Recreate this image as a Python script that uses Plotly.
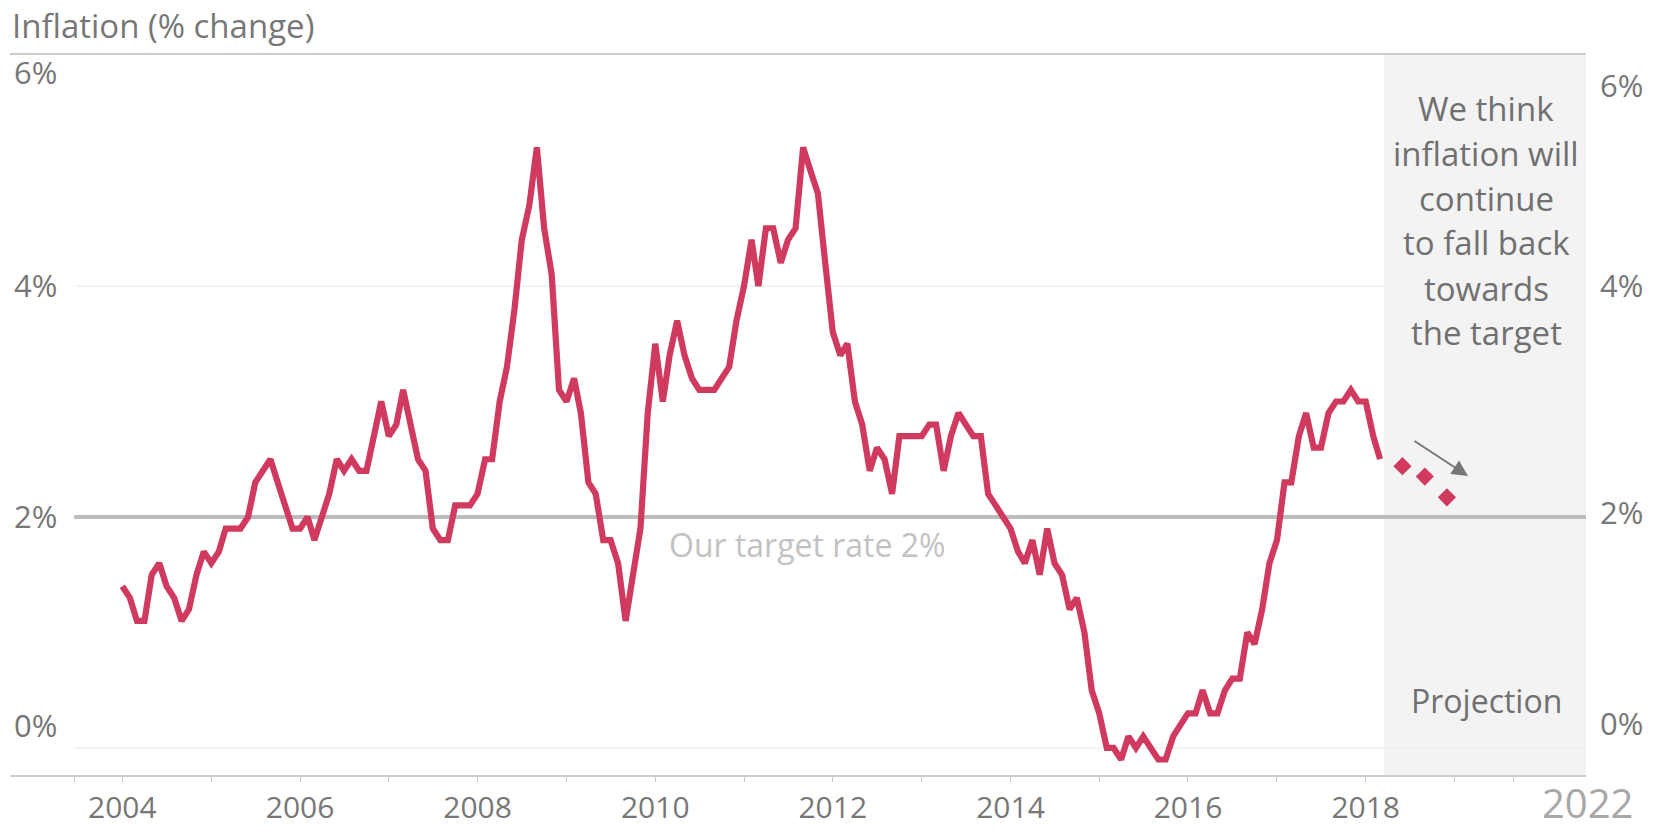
import plotly.graph_objects as go
import pandas as pd

# ---------------- data ----------------
months = pd.date_range("2004-01-01", "2018-03-01", freq="MS")
cpi = [
    1.4, 1.3, 1.1, 1.1, 1.5, 1.6, 1.4, 1.3, 1.1, 1.2, 1.5, 1.7,      # 2004
    1.6, 1.7, 1.9, 1.9, 1.9, 2.0, 2.3, 2.4, 2.5, 2.3, 2.1, 1.9,      # 2005
    1.9, 2.0, 1.8, 2.0, 2.2, 2.5, 2.4, 2.5, 2.4, 2.4, 2.7, 3.0,      # 2006
    2.7, 2.8, 3.1, 2.8, 2.5, 2.4, 1.9, 1.8, 1.8, 2.1, 2.1, 2.1,      # 2007
    2.2, 2.5, 2.5, 3.0, 3.3, 3.8, 4.4, 4.7, 5.2, 4.5, 4.1, 3.1,      # 2008
    3.0, 3.2, 2.9, 2.3, 2.2, 1.8, 1.8, 1.6, 1.1, 1.5, 1.9, 2.9,      # 2009
    3.5, 3.0, 3.4, 3.7, 3.4, 3.2, 3.1, 3.1, 3.1, 3.2, 3.3, 3.7,      # 2010
    4.0, 4.4, 4.0, 4.5, 4.5, 4.2, 4.4, 4.5, 5.2, 5.0, 4.8, 4.2,      # 2011
    3.6, 3.4, 3.5, 3.0, 2.8, 2.4, 2.6, 2.5, 2.2, 2.7, 2.7, 2.7,      # 2012
    2.7, 2.8, 2.8, 2.4, 2.7, 2.9, 2.8, 2.7, 2.7, 2.2, 2.1, 2.0,      # 2013
    1.9, 1.7, 1.6, 1.8, 1.5, 1.9, 1.6, 1.5, 1.2, 1.3, 1.0, 0.5,      # 2014
    0.3, 0.0, 0.0, -0.1, 0.1, 0.0, 0.1, 0.0, -0.1, -0.1, 0.1, 0.2,   # 2015
    0.3, 0.3, 0.5, 0.3, 0.3, 0.5, 0.6, 0.6, 1.0, 0.9, 1.2, 1.6,      # 2016
    1.8, 2.3, 2.3, 2.7, 2.9, 2.6, 2.6, 2.9, 3.0, 3.0, 3.1, 3.0,      # 2017
    3.0, 2.7, 2.5,                                                   # 2018
]

proj_dates = ["2018-06-01", "2018-09-01", "2018-12-01"]
proj_vals = [2.44, 2.35, 2.17]

target = 2.0
grid_vals = [0, 4]
projection_start = "2018-03-16"

x_range = ["2002-09-26", "2020-06-25"]
y_range = [-0.234, 6.0]

year_ticks = [f"{y}-01-01" for y in range(2004, 2020)]
year_text = [str(y) if y % 2 == 0 else "" for y in range(2004, 2020)]
extra_ticks = ["2003-06-17", "2019-09-02"]

y_label_text = ["0%", "2%", "4%", "6%"]
y_label_pos_left = [0.19, 2.0, 4.0, 5.84]
y_label_pos_right = [0.21, 2.03, 4.0, 5.73]

note_lines = ["We think", "inflation will", "continue", "to fall back", "towards", "the target"]

# ---------------- styling ----------------
W, H = 1665, 832
ML, MR, MT, MB = 10, 79, 55, 57
FONT = "Open Sans"
LINE_COL = "#D03A5E"
TXT = "#777777"
NOTE = "#707070"

def px_x(px):
    return (px - ML) / (W - ML - MR)

def px_y(py):
    return (H - MB - py) / (H - MT - MB)

fig = go.Figure()

fig.add_trace(go.Scatter(
    x=months, y=cpi, mode="lines",
    line=dict(color=LINE_COL, width=6.2),
    showlegend=False, hoverinfo="skip"))

fig.add_trace(go.Scatter(
    x=proj_dates, y=proj_vals, mode="markers", yaxis="y2",
    marker=dict(symbol="diamond", size=14, color=LINE_COL, line=dict(width=0)),
    showlegend=False, hoverinfo="skip"))

shapes = []
for g in grid_vals:
    shapes.append(dict(type="line", xref="x", yref="y", x0=extra_ticks[0], x1=x_range[1],
                       y0=g, y1=g, line=dict(color="#efefef", width=1.5), layer="below"))
shapes.append(dict(type="rect", xref="x", yref="paper", x0=projection_start, x1=x_range[1],
                   y0=0, y1=1, fillcolor="#f3f3f3", line=dict(width=0), layer="below"))
shapes.append(dict(type="line", xref="x", yref="y", x0=extra_ticks[0], x1=x_range[1],
                   y0=target, y1=target, line=dict(color="#bcbcbc", width=4), layer="below"))

annotations = [
    dict(text="Inflation (% change)", xref="paper", yref="paper", x=0, y=1,
         xanchor="left", yanchor="middle", yshift=30, showarrow=False,
         font=dict(family=FONT, size=33, color=TXT)),
    dict(text="Our target rate 2%", xref="paper", yref="y", x=px_x(807), y=target,
         xanchor="center", yanchor="middle", yshift=-28, showarrow=False,
         font=dict(family=FONT, size=32, color="#c2c2c2")),
    dict(text="Projection", xref="paper", yref="paper", x=px_x(1486), y=px_y(700),
         xanchor="center", yanchor="middle", showarrow=False,
         font=dict(family=FONT, size=32, color=NOTE)),
    dict(text="2022", xref="paper", yref="paper", x=px_x(1587), y=px_y(802),
         xanchor="center", yanchor="middle", showarrow=False, borderpad=0,
         font=dict(family=FONT, size=40, color="#a8a8a8")),
    dict(text="", xref="paper", yref="paper", x=px_x(1468), y=px_y(476),
         ax=-55, ay=-36, axref="pixel", ayref="pixel", showarrow=True,
         arrowhead=2, arrowsize=1.6, arrowwidth=2, arrowcolor="#767676"),
]
line_y = [109, 154, 199, 243, 288, 332]
for t, yy in zip(note_lines, line_y):
    annotations.append(dict(text=t, xref="paper", yref="paper", x=px_x(1486), y=px_y(yy),
                            xanchor="center", yanchor="middle", showarrow=False,
                            font=dict(family=FONT, size=33, color=NOTE)))

fig.update_layout(
    width=W, height=H,
    margin=dict(l=ML, r=MR, t=MT, b=MB, pad=0, autoexpand=False),
    paper_bgcolor="white", plot_bgcolor="white",
    font=dict(family=FONT, size=28, color=TXT),
    xaxis=dict(type="date", range=x_range, showgrid=False, zeroline=False, automargin=False,
               showline=True, linecolor="#cccccc", linewidth=2, mirror=True,
               tickmode="array", tickvals=year_ticks + extra_ticks,
               ticktext=year_text + ["", ""],
               ticks="outside", ticklen=5, tickwidth=1, tickcolor="#c8c8c8",
               tickfont=dict(family=FONT, size=30, color=TXT)),
    yaxis=dict(range=y_range, showgrid=False, zeroline=False, showline=False, automargin=False,
               tickmode="array", tickvals=y_label_pos_left, ticktext=y_label_text,
               ticks="", ticklabelposition="inside", ticklabelstandoff=1,
               ticklabeloverflow="allow",
               tickfont=dict(family=FONT, size=31, color=TXT)),
    yaxis2=dict(range=y_range, overlaying="y", side="right", showgrid=False, automargin=False,
                zeroline=False, showline=False,
                tickmode="array", tickvals=y_label_pos_right, ticktext=y_label_text,
                ticks="", ticklabelstandoff=13, ticklabeloverflow="allow",
                tickfont=dict(family=FONT, size=31, color=TXT)),
    shapes=shapes, annotations=annotations,
)

fig.write_html("out.html", config={"displayModeBar": False},
               post_script="document.body.style.margin='0';document.body.style.overflow='hidden';")
